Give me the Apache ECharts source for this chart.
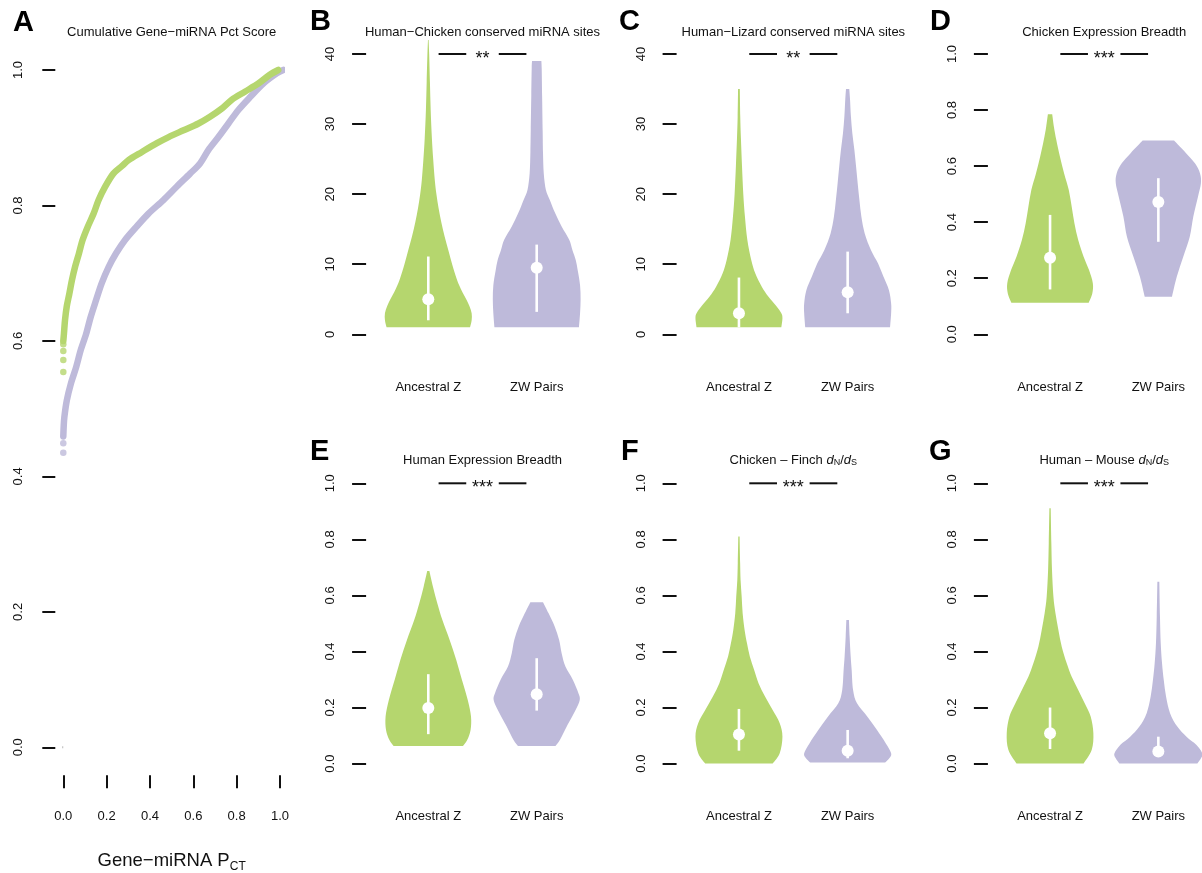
<!DOCTYPE html>
<html>
<head>
<meta charset="utf-8">
<script src="https://cdn.jsdelivr.net/npm/echarts@6/dist/echarts.min.js"></script>
<style>
html, body { margin: 0; padding: 0; background: #fff; }
#chart { width: 1202px; height: 873px; }
</style>
</head>
<body>
<div id="chart"></div>
<script>
// ---------- data ----------
const groups = ['Ancestral Z', 'ZW Pairs'];

// Panel A: cumulative distribution of gene-miRNA PCT scores ([PCT, cumulative fraction])
const pctAncestralZ = [[0.000,0.600],[0.003,0.611],[0.008,0.631],[0.016,0.651],[0.028,0.670],[0.040,0.690],[0.054,0.709],[0.072,0.729],[0.089,0.749],[0.112,0.768],[0.140,0.788],[0.163,0.808],[0.192,0.827],[0.231,0.847],[0.270,0.858],[0.301,0.867],[0.363,0.879],[0.432,0.892],[0.486,0.901],[0.555,0.911],[0.624,0.921],[0.677,0.931],[0.731,0.943],[0.777,0.956],[0.838,0.968],[0.900,0.980],[0.953,0.993],[0.992,1.000]];
const pctAncestralZLow = [[0,0.554],[0,0.572],[0,0.585],[0,0.595]];
const pctZWPairs = [[0.000,0.459],[0.002,0.475],[0.005,0.488],[0.016,0.512],[0.035,0.537],[0.059,0.561],[0.080,0.586],[0.105,0.610],[0.126,0.635],[0.151,0.660],[0.177,0.685],[0.209,0.709],[0.243,0.729],[0.285,0.749],[0.336,0.768],[0.393,0.788],[0.462,0.808],[0.524,0.828],[0.585,0.847],[0.631,0.862],[0.670,0.882],[0.716,0.901],[0.762,0.921],[0.808,0.941],[0.862,0.960],[0.923,0.980],[0.985,0.995],[1.015,1.000]];
const pctZWPairsLow = [[0,0.435],[0,0.449]];
const pctOrigin = [[-0.045,0],[0,0]];

// Violin density outlines: [value, half-width as a fraction of the group band]
const sitesChickenZ = [[1,0.385],[2,0.40],[3,0.40],[4,0.38],[5,0.35],[6,0.315],[7,0.285],[8,0.26],[10,0.22],[12,0.185],[14,0.15],[16,0.12],[18,0.095],[20,0.075],[22,0.06],[25,0.045],[28,0.033],[32,0.022],[36,0.015],[40,0.008],[42,0.003]];
const sitesChickenZW = [[1,0.39],[3,0.40],[5,0.405],[7,0.40],[9,0.38],[10.6,0.36],[12,0.33],[13.5,0.30],[15.4,0.23],[17.3,0.17],[19.2,0.12],[20.6,0.085],[23,0.065],[26,0.058],[29,0.055],[34,0.05],[38,0.046],[39,0.043]];
const sitesChickenMedian = [5.0, 9.5];
const sitesChickenIQR = [[2.0, 11.1], [3.2, 12.8]];

const sitesLizardZ = [[1,0.39],[2.3,0.40],[3,0.39],[4,0.345],[5.4,0.27],[6.8,0.21],[8.7,0.15],[10.6,0.113],[13.5,0.077],[16.8,0.055],[20,0.04],[24,0.028],[28,0.018],[31,0.012],[35,0.008]];
const sitesLizardZW = [[1,0.39],[3,0.40],[4.4,0.40],[6.3,0.38],[8.2,0.33],[10.1,0.28],[12,0.215],[14.4,0.157],[16.8,0.126],[19.2,0.108],[21.6,0.092],[24,0.077],[26.3,0.062],[28.7,0.043],[31.1,0.03],[33.5,0.022],[35,0.015]];
const sitesLizardMedian = [3.0, 6.0];
const sitesLizardIQR = [[1.0, 8.1], [3.0, 11.8]];

const breadthChickenZ = [[0.113,0.357],[0.146,0.39],[0.182,0.395],[0.229,0.36],[0.277,0.31],[0.336,0.26],[0.396,0.225],[0.455,0.2],[0.515,0.173],[0.574,0.13],[0.634,0.091],[0.693,0.058],[0.74,0.036],[0.785,0.02]];
const breadthChickenZW = [[0.134,0.126],[0.205,0.17],[0.277,0.23],[0.348,0.29],[0.42,0.323],[0.491,0.366],[0.539,0.393],[0.574,0.385],[0.61,0.338],[0.646,0.256],[0.691,0.145]];
const breadthChickenMedian = [0.273, 0.472];
const breadthChickenIQR = [[0.16, 0.426], [0.33, 0.557]];

const breadthHumanZ = [[0.063,0.32],[0.085,0.36],[0.12,0.39],[0.168,0.394],[0.227,0.364],[0.299,0.31],[0.37,0.258],[0.441,0.197],[0.512,0.13],[0.572,0.083],[0.631,0.043],[0.687,0.01]];
const breadthHumanZW = [[0.063,0.173],[0.085,0.215],[0.132,0.277],[0.192,0.36],[0.227,0.397],[0.251,0.385],[0.299,0.333],[0.346,0.265],[0.394,0.23],[0.441,0.207],[0.489,0.166],[0.536,0.11],[0.576,0.058]];
const breadthHumanMedian = [0.198, 0.247];
const breadthHumanIQR = [[0.105, 0.319], [0.189, 0.376]];

const dndsFinchZ = [[0.0,0.31],[0.037,0.375],[0.096,0.40],[0.144,0.375],[0.191,0.31],[0.239,0.24],[0.287,0.18],[0.334,0.14],[0.382,0.10],[0.429,0.074],[0.477,0.052],[0.536,0.034],[0.596,0.025],[0.655,0.015],[0.715,0.011],[0.81,0.006]];
const dndsFinchZW = [[0.004,0.345],[0.02,0.385],[0.037,0.40],[0.073,0.35],[0.12,0.27],[0.168,0.18],[0.215,0.086],[0.263,0.05],[0.334,0.037],[0.382,0.028],[0.453,0.018],[0.512,0.012]];
const dndsFinchMedian = [0.104, 0.046];
const dndsFinchIQR = [[0.046, 0.195], [0.019, 0.12]];

const dndsMouseZ = [[0.0,0.31],[0.049,0.385],[0.108,0.40],[0.168,0.375],[0.215,0.32],[0.263,0.26],[0.31,0.2],[0.358,0.154],[0.417,0.108],[0.477,0.077],[0.536,0.05],[0.596,0.031],[0.691,0.018],[0.786,0.012],[0.911,0.006]];
const dndsMouseZW = [[0.0,0.36],[0.02,0.395],[0.037,0.405],[0.067,0.35],[0.096,0.26],[0.132,0.175],[0.18,0.108],[0.239,0.071],[0.298,0.05],[0.358,0.034],[0.429,0.022],[0.524,0.015],[0.649,0.009]];
const dndsMouseMedian = [0.108, 0.043];
const dndsMouseIQR = [[0.052, 0.2], [0.025, 0.096]];

const sitesTicks = [0, 10, 20, 30, 40];
const fractionTicks = [0, 0.2, 0.4, 0.6, 0.8, 1.0];
const significance = ['**', '**', '***', '***', '***', '***'];

// ---------- styling ----------
const FONT = '"Liberation Sans", Arial, Helvetica, sans-serif';
const GREEN = '#B5D66E';
const PURPLE = '#BEBADA';
const INK = '#111';

const subRich = {
  t: { fontSize: 13, fontFamily: FONT, color: INK },
  i: { fontSize: 13, fontFamily: FONT, fontStyle: 'italic', color: INK },
  s: { fontSize: 9, fontFamily: FONT, color: INK, verticalAlign: 'bottom', lineHeight: 9 }
};

const panels = [
  { letter: 'B', title: 'Human−Chicken conserved miRNA sites', left: 374.1, top: 54, width: 216.8,
    profiles: [sitesChickenZ, sitesChickenZW], medians: sitesChickenMedian, iqr: sitesChickenIQR, ticks: sitesTicks, digits: 0, letterX: 310 },
  { letter: 'C', title: 'Human−Lizard conserved miRNA sites', left: 684.6, top: 54, width: 217.4,
    profiles: [sitesLizardZ, sitesLizardZW], medians: sitesLizardMedian, iqr: sitesLizardIQR, ticks: sitesTicks, digits: 0, letterX: 619 },
  { letter: 'D', title: 'Chicken Expression Breadth', left: 995.9, top: 54, width: 216.6,
    profiles: [breadthChickenZ, breadthChickenZW], medians: breadthChickenMedian, iqr: breadthChickenIQR, ticks: fractionTicks, digits: 1, letterX: 930 },
  { letter: 'E', title: 'Human Expression Breadth', left: 374.1, top: 483.3, width: 216.8,
    profiles: [breadthHumanZ, breadthHumanZW], medians: breadthHumanMedian, iqr: breadthHumanIQR, ticks: fractionTicks, digits: 1, letterX: 310 },
  { letter: 'F', title: '{t|Chicken – Finch }{i|d}{s|N}{t|/}{i|d}{s|S}', left: 684.6, top: 483.3, width: 217.4,
    profiles: [dndsFinchZ, dndsFinchZW], medians: dndsFinchMedian, iqr: dndsFinchIQR, ticks: fractionTicks, digits: 1, letterX: 621 },
  { letter: 'G', title: '{t|Human – Mouse }{i|d}{s|N}{t|/}{i|d}{s|S}', left: 995.9, top: 483.3, width: 216.6,
    profiles: [dndsMouseZ, dndsMouseZW], medians: dndsMouseMedian, iqr: dndsMouseIQR, ticks: fractionTicks, digits: 1, letterX: 929 }
];
const PANEL_H = 280.3;

const grids = [{ left: 63.3, top: 70, width: 216.7, height: 677.3, outerBoundsMode: 'none' }];
const xAxes = [{
  type: 'value', gridIndex: 0, min: 0, max: 1, interval: 0.2, offset: 28,
  axisLine: { show: false, onZero: false }, splitLine: { show: false },
  axisTick: { show: true, length: 13, lineStyle: { color: INK, width: 2 } },
  axisLabel: { margin: 35, fontSize: 13, fontFamily: FONT, color: INK, formatter: v => v.toFixed(1) },
  name: '{m|Gene−miRNA P}{s|CT}', nameLocation: 'middle', nameGap: 75,
  nameTextStyle: { rich: {
    m: { fontSize: 18.5, fontFamily: FONT, color: INK, lineHeight: 22 },
    s: { fontSize: 12, fontFamily: FONT, color: INK, lineHeight: 12, verticalAlign: 'bottom' }
  } }
}];
const yAxes = [{
  type: 'value', gridIndex: 0, min: 0, max: 1, interval: 0.2, offset: 8,
  axisLine: { show: false, onZero: false }, splitLine: { show: false },
  axisTick: { show: true, length: 13, lineStyle: { color: INK, width: 2 } },
  axisLabel: { rotate: 90, margin: 30, fontSize: 13, fontFamily: FONT, color: INK, formatter: v => v.toFixed(1) }
}];
const titles = [
  { text: 'A', left: 13, top: 23, textVerticalAlign: 'middle', padding: 0,
    textStyle: { fontSize: 29, fontWeight: 'bold', fontFamily: FONT, color: '#000' } },
  { text: 'Cumulative Gene−miRNA Pct Score', left: 171.7, top: 32.3, textAlign: 'center', textVerticalAlign: 'middle', padding: 0,
    textStyle: { fontSize: 13, fontWeight: 'normal', fontFamily: FONT, color: INK } }
];

const series = [
  { type: 'line', xAxisIndex: 0, yAxisIndex: 0, data: pctOrigin, symbol: 'none', clip: false, silent: true,
    lineStyle: { color: '#c8c8c8', width: 2 } },
  { type: 'line', xAxisIndex: 0, yAxisIndex: 0, data: pctZWPairs, symbol: 'none', smooth: 0.3, clip: false,
    lineStyle: { color: PURPLE, width: 6.5, cap: 'round', join: 'round' } },
  { type: 'scatter', xAxisIndex: 0, yAxisIndex: 0, data: pctZWPairsLow, symbolSize: 6.5, clip: false,
    itemStyle: { color: PURPLE } },
  { type: 'line', xAxisIndex: 0, yAxisIndex: 0, data: pctAncestralZ, symbol: 'none', smooth: 0.3, clip: false,
    lineStyle: { color: GREEN, width: 6.5, cap: 'round', join: 'round' } },
  { type: 'scatter', xAxisIndex: 0, yAxisIndex: 0, data: pctAncestralZLow, symbolSize: 6.5, clip: false,
    itemStyle: { color: GREEN } }
];

// Smooth outline segments (Catmull-Rom as cubic Béziers) through screen points
function curveThrough(pts) {
  let d = '';
  for (let j = 0; j < pts.length - 1; j++) {
    const p0 = pts[Math.max(j - 1, 0)], p1 = pts[j], p2 = pts[j + 1], p3 = pts[Math.min(j + 2, pts.length - 1)];
    const c1x = p1[0] + (p2[0] - p0[0]) / 6, c1y = p1[1] + (p2[1] - p0[1]) / 6;
    const c2x = p2[0] - (p3[0] - p1[0]) / 6, c2y = p2[1] - (p3[1] - p1[1]) / 6;
    d += ' C' + c1x + ',' + c1y + ' ' + c2x + ',' + c2y + ' ' + p2[0] + ',' + p2[1];
  }
  return d;
}

function violinRenderer(profiles) {
  return function (params, api) {
    const i = params.dataIndex;
    const band = api.size([1, 0])[0];
    const prof = profiles[i];
    const right = prof.map(([v, w]) => { const p = api.coord([i, v]); return [p[0] + w * band, p[1]]; });
    const left = prof.slice().reverse().map(([v, w]) => { const p = api.coord([i, v]); return [p[0] - w * band, p[1]]; });
    const d = 'M' + right[0][0] + ',' + right[0][1] + curveThrough(right) +
      ' L' + left[0][0] + ',' + left[0][1] + curveThrough(left) + ' Z';
    const med = api.coord([i, api.value(1)]);
    const lo = api.coord([i, api.value(2)]);
    const hi = api.coord([i, api.value(3)]);
    return {
      type: 'group',
      children: [
        { type: 'path', shape: { pathData: d }, style: { fill: i === 0 ? GREEN : PURPLE } },
        { type: 'line', shape: { x1: lo[0], y1: lo[1], x2: hi[0], y2: hi[1] },
          style: { stroke: '#fff', lineWidth: 2.6 } },
        { type: 'circle', shape: { cx: med[0], cy: med[1], r: 6 }, style: { fill: '#fff' } }
      ]
    };
  };
}

function signifRenderer(label) {
  return function (params, api) {
    const band = api.size([1, 0])[0];
    const p = api.coord([0, api.value(1)]);
    const y = p[1];
    const seg = (a, b) => ({ type: 'line', shape: { x1: p[0] + a * band, y1: y, x2: p[0] + b * band, y2: y },
      style: { stroke: INK, lineWidth: 2 } });
    return {
      type: 'group',
      children: [
        seg(0.095, 0.35), seg(0.65, 0.905),
        { type: 'text', x: p[0] + 0.5 * band, y: y + 5,
          style: { text: label, fill: INK, font: '18px ' + FONT, align: 'center', verticalAlign: 'middle' } }
      ]
    };
  };
}

panels.forEach((pn, k) => {
  const gi = k + 1;
  grids.push({ left: pn.left, top: pn.top, width: pn.width, height: PANEL_H, outerBoundsMode: 'none' });
  xAxes.push({
    type: 'category', gridIndex: gi, data: groups,
    axisLine: { show: false }, axisTick: { show: false }, splitLine: { show: false },
    axisLabel: { margin: 46.5, fontSize: 13, fontFamily: FONT, color: INK }
  });
  const yMax = pn.ticks[pn.ticks.length - 1];
  yAxes.push({
    type: 'value', gridIndex: gi, min: 0, max: yMax, interval: pn.ticks[1] - pn.ticks[0], offset: 8,
    axisLine: { show: false }, splitLine: { show: false },
    axisTick: { show: true, length: 14, lineStyle: { color: INK, width: 2 } },
    axisLabel: { rotate: 90, margin: 29, fontSize: 13, fontFamily: FONT, color: INK,
      formatter: v => v.toFixed(pn.digits) }
  });
  const rowMid = pn.top < 200 ? 32.3 : 460.7;
  const letterMid = pn.top < 200 ? 22 : 451.5;
  titles.push({ text: pn.letter, left: pn.letterX, top: letterMid, textVerticalAlign: 'middle', padding: 0,
    textStyle: { fontSize: 29, fontWeight: 'bold', fontFamily: FONT, color: '#000' } });
  titles.push({ text: pn.title, left: pn.left + pn.width / 2, top: rowMid, textAlign: 'center', textVerticalAlign: 'middle', padding: 0,
    textStyle: { fontSize: 13, fontWeight: 'normal', fontFamily: FONT, color: INK, rich: subRich } });
  series.push({
    type: 'custom', xAxisIndex: gi, yAxisIndex: gi, clip: false,
    data: groups.map((g, i) => [i, pn.medians[i], pn.iqr[i][0], pn.iqr[i][1]]),
    renderItem: violinRenderer(pn.profiles)
  });
  series.push({
    type: 'custom', xAxisIndex: gi, yAxisIndex: gi, clip: false, silent: true,
    data: [[0, yMax]],
    renderItem: signifRenderer(significance[k])
  });
});

const chart = echarts.init(document.getElementById('chart'), null, { renderer: 'canvas' });
chart.setOption({
  animation: false,
  backgroundColor: '#fff',
  title: titles,
  grid: grids,
  xAxis: xAxes,
  yAxis: yAxes,
  series: series
});
</script>
</body>
</html>
